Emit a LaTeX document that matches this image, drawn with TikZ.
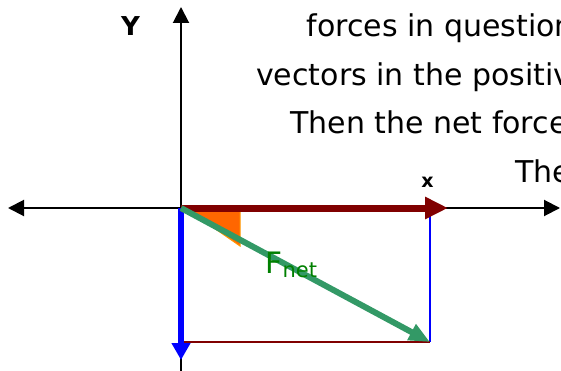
\documentclass[tikz,border=0pt]{standalone}
\usepackage{fontspec}
\setmainfont{DejaVu Sans}
\usetikzlibrary{arrows.meta}
\definecolor{darkred}{RGB}{128,0,0}
\definecolor{netgreen}{RGB}{51,153,102}
\definecolor{labelgreen}{RGB}{0,128,0}
\definecolor{wedge}{RGB}{255,102,0}
\definecolor{wedgeedge}{RGB}{255,153,0}

\begin{document}
\begin{tikzpicture}[
    x=1pt, y=-1pt,
    axistip/.tip={Triangle[length=16pt, width=16pt]},
    axis/.style={draw=black, line width=2pt},
    xforce/.style={draw=darkred, line width=7pt, -{Triangle[length=23pt, width=21pt]}},
    yforce/.style={draw=blue, line width=5.5pt, -{Triangle[length=17pt, width=18pt]}},
    netforce/.style={draw=netgreen, line width=6pt, -{Triangle[length=21pt, width=17pt]}},
    guide/.style={line width=1.5pt},
    bigtext/.style={anchor=base west, inner sep=0pt, font=\fontsize{30}{36}\selectfont},
    axislabel/.style={inner sep=0pt, font=\bfseries\fontsize{26}{30}\selectfont}
]
\useasboundingbox (0,0) rectangle (561,371);
\clip (0,0) rectangle (561,371);

% points of the vector diagram
\coordinate (O) at (181,208);
\coordinate (ytop) at (181,7);
\coordinate (ybottom) at (181,371);
\coordinate (xleft) at (8,208);
\coordinate (xright) at (560,208);
\coordinate (Fx) at (448,208);
\coordinate (Fy) at (181,360);
\coordinate (C) at (430,342);
\coordinate (Cx) at (430,209);
\coordinate (Cy) at (181,342);

% angle wedge
\filldraw[fill=wedge, draw=wedgeedge, line width=1pt] (188,210) -- (240,210) -- (240,246) -- cycle;

% completing the rectangle
\draw[guide, blue] (Cx) -- (C);
\draw[guide, darkred] (Cy) -- (C);

% axes
\draw[axis, axistip-axistip] (xleft) -- (xright);
\draw[axis, -axistip] (ybottom) -- (ytop);

% forces
\draw[yforce] (O) -- (Fy);
\draw[xforce] (O) -- (Fx);
\draw[netforce] (O) -- (C);

% labels
\node[axislabel, anchor=base west] (ylabel) at (121,36) {Y};
\node[axislabel, anchor=base, font=\bfseries\fontsize{19}{22}\selectfont] (xlabel) at (427.5,188) {x};
\node[anchor=base west, inner sep=0pt, text=labelgreen, font=\fontsize{29.5}{34}\selectfont] (netlabel) at (265.5,273)
  {F{\fontsize{21}{24}\selectfont\raisebox{-4pt}{net}}};

% text running off the right edge
\node[bigtext] (line1) at (306.5,37) {forces in question};
\node[bigtext] (line2) at (256,85.5) {vectors in the positiv};
\node[bigtext] (line3) at (290,134) {Then the net force};
\node[bigtext] (line4) at (515,182.5) {The};
\end{tikzpicture}
\end{document}
